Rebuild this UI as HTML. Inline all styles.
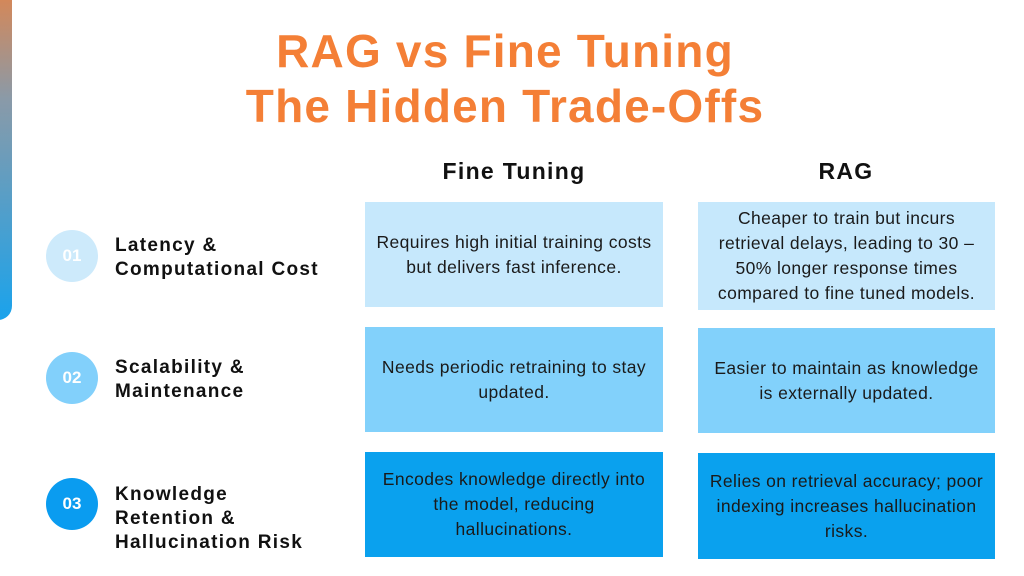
<!DOCTYPE html>
<html><head><style>
body{margin:0;width:1024px;height:576px;background:#fff;position:relative;overflow:hidden;font-family:"Liberation Sans",sans-serif}
.bar{position:absolute;left:-20px;top:-20px;width:32px;height:340px;border-radius:0 0 14px 0;background:linear-gradient(#e2844a,#8a9aa8 35%,#1aa3ec)}
.t{position:absolute;left:0;width:1010px;text-align:center;color:#f47f36;font-weight:bold;font-size:46px;letter-spacing:1.2px}
.h{position:absolute;font-weight:bold;font-size:23px;letter-spacing:1.3px;color:#111;transform:translateX(-50%)}
.c{position:absolute;left:46px;width:52px;height:52px;border-radius:50%;color:#fff;font-weight:bold;font-size:17px;text-align:center;line-height:52px}
.l{position:absolute;left:115px;font-weight:bold;font-size:19px;letter-spacing:1.3px;line-height:24px;color:#111}
.b{position:absolute;display:flex;align-items:center;justify-content:center;text-align:center;font-size:17.5px;letter-spacing:0.4px;line-height:25px;color:#1a1a1a;box-sizing:border-box;white-space:nowrap}
</style></head><body>
<div class="bar"></div>
<div class="t" style="top:24px">RAG vs Fine Tuning</div>
<div class="t" style="top:79px">The Hidden Trade-Offs</div>
<div class="h" style="left:514px;top:158px">Fine Tuning</div>
<div class="h" style="left:846px;top:158px">RAG</div>
<div class="c" style="top:230px;background:#cdeafb">01</div>
<div class="c" style="top:352px;background:#82d0fb">02</div>
<div class="c" style="top:478px;background:#0a9cf0">03</div>
<div class="l" style="top:234px">Latency &amp;<br>Computational Cost</div>
<div class="l" style="top:356px">Scalability &amp;<br>Maintenance</div>
<div class="l" style="top:483px">Knowledge<br>Retention &amp;<br>Hallucination Risk</div>
<div class="b" style="left:365px;top:202px;width:298px;height:105px;background:#c6e8fc">Requires high initial training costs<br>but delivers fast inference.</div>
<div class="b" style="left:698px;top:202px;width:297px;height:108px;background:#c6e8fc">Cheaper to train but incurs<br>retrieval delays, leading to 30 –<br>50% longer response times<br>compared to fine tuned models.</div>
<div class="b" style="left:365px;top:327px;width:298px;height:105px;background:#82d1fb">Needs periodic retraining to stay<br>updated.</div>
<div class="b" style="left:698px;top:328px;width:297px;height:105px;background:#82d1fb">Easier to maintain as knowledge<br>is externally updated.</div>
<div class="b" style="left:365px;top:452px;width:298px;height:105px;background:#0aa1ee">Encodes knowledge directly into<br>the model, reducing<br>hallucinations.</div>
<div class="b" style="left:698px;top:453px;width:297px;height:106px;background:#0aa1ee">Relies on retrieval accuracy; poor<br>indexing increases hallucination<br>risks.</div>
</body></html>
